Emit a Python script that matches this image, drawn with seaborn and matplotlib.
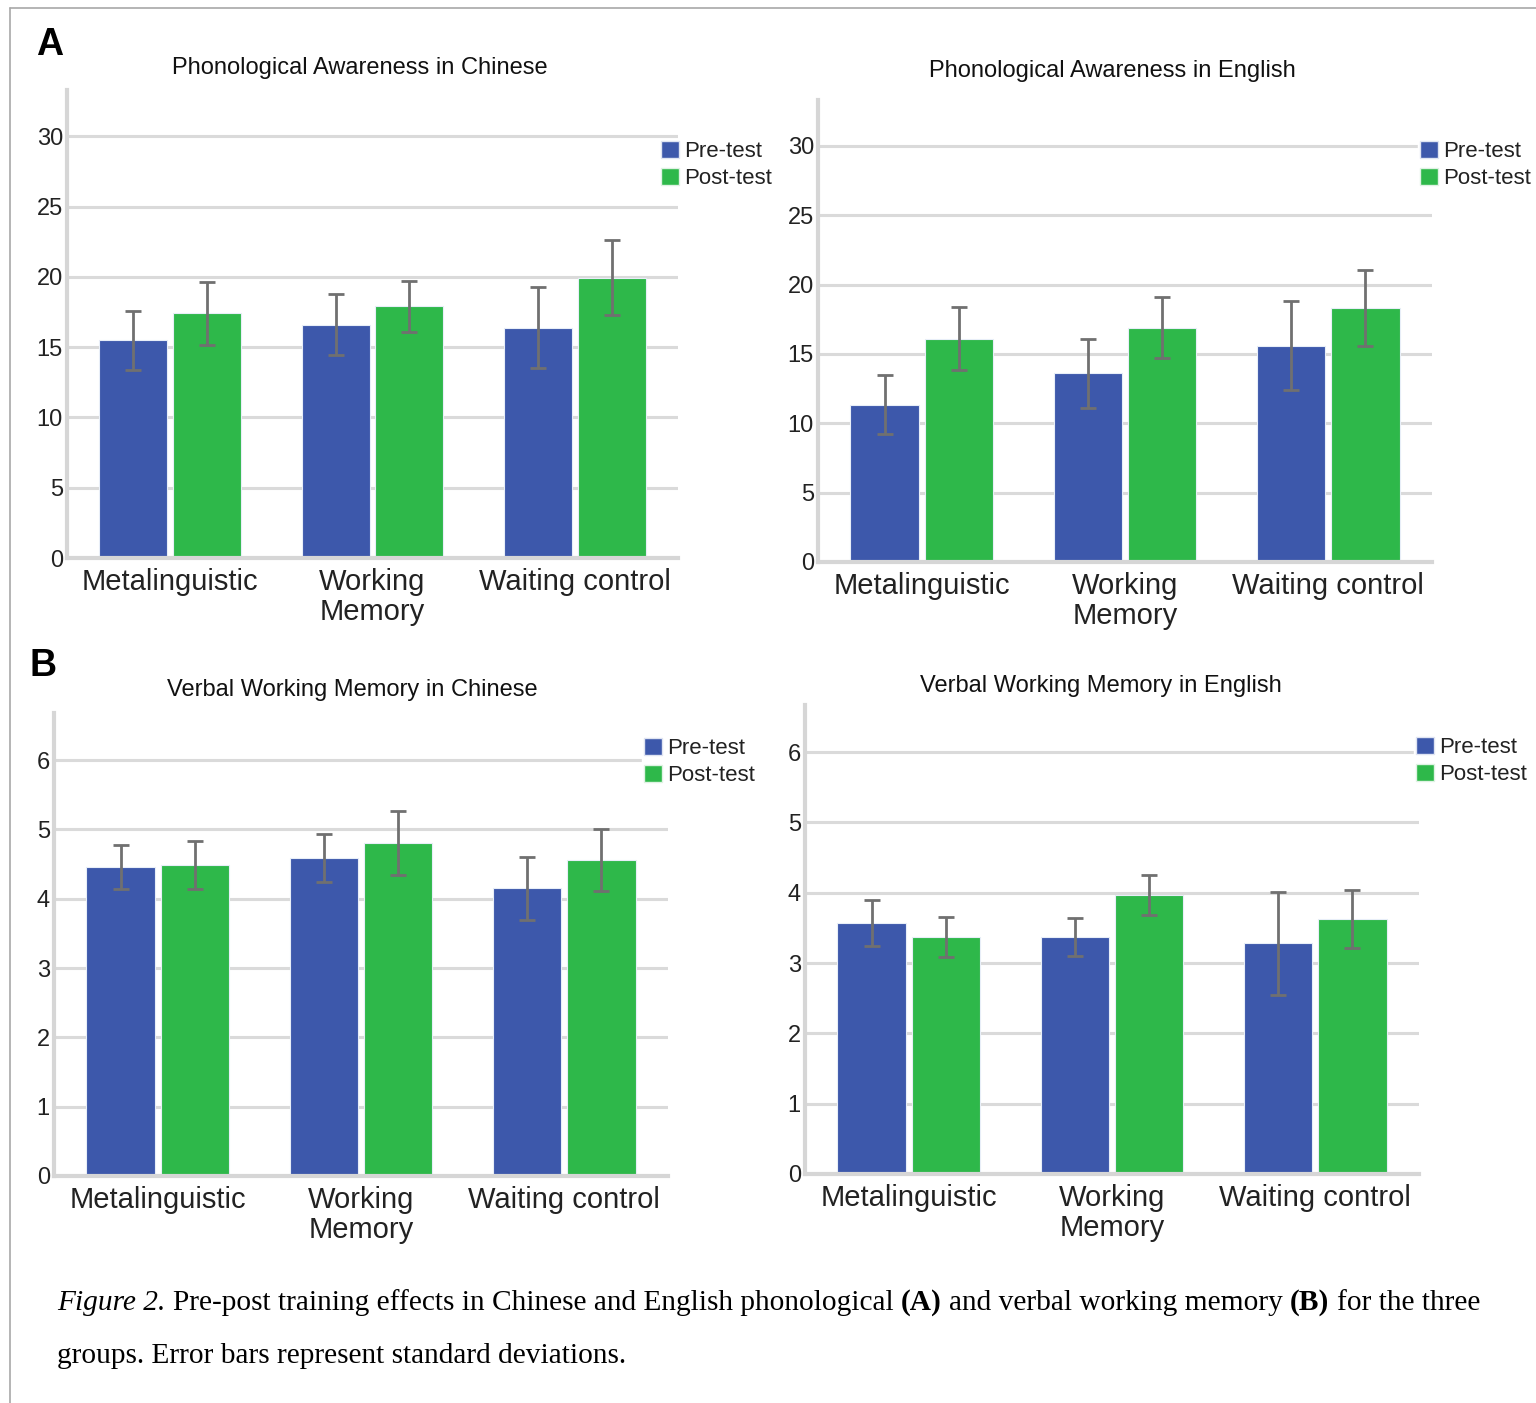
import matplotlib
matplotlib.use("Agg")
import matplotlib.pyplot as plt
from matplotlib import font_manager
from matplotlib.patches import Patch
from matplotlib.lines import Line2D
import seaborn as sns
import pandas as pd
import numpy as np

# ---------------- data ----------------
groups = ["Metalinguistic", "Working\nMemory", "Waiting control"]
tests = ["Pre-test", "Post-test"]

pa_cn_pre = [15.5, 16.6, 16.4]
pa_cn_pre_sd = [2.1, 2.15, 2.9]
pa_cn_post = [17.4, 17.9, 19.95]
pa_cn_post_sd = [2.25, 1.8, 2.65]

pa_en_pre = [11.35, 13.6, 15.6]
pa_en_pre_sd = [2.1, 2.5, 3.2]
pa_en_post = [16.1, 16.9, 18.3]
pa_en_post_sd = [2.25, 2.2, 2.75]

vwm_cn_pre = [4.46, 4.59, 4.15]
vwm_cn_pre_sd = [0.32, 0.35, 0.45]
vwm_cn_post = [4.49, 4.80, 4.56]
vwm_cn_post_sd = [0.35, 0.46, 0.45]

vwm_en_pre = [3.57, 3.37, 3.28]
vwm_en_pre_sd = [0.33, 0.27, 0.73]
vwm_en_post = [3.37, 3.97, 3.63]
vwm_en_post_sd = [0.29, 0.28, 0.41]

titles = ["Phonological Awareness in Chinese", "Phonological Awareness in English",
          "Verbal Working Memory in Chinese", "Verbal Working Memory in English"]
pa_ticks = [0, 5, 10, 15, 20, 25, 30]
vwm_ticks = [0, 1, 2, 3, 4, 5, 6]

# ---------------- style ----------------
sns.set_theme(style="white")
avail = {f.name for f in font_manager.fontManager.ttflist}
narrow = "Liberation Sans Narrow" if "Liberation Sans Narrow" in avail else "Liberation Sans"
plt.rcParams["font.family"] = ["Liberation Sans", "DejaVu Sans"]

BLUE = "#3d58ab"
GREEN = "#2eb84a"
palette = {"Pre-test": BLUE, "Post-test": GREEN}

W, H = 1536, 1403
fig = plt.figure(figsize=(W / 100, H / 100), dpi=100)


def fx(px):
    return px / W


def fy(py):
    return 1 - py / H


panels = [
    dict(box=(67, 678, 90, 558), pre=pa_cn_pre, pre_sd=pa_cn_pre_sd, post=pa_cn_post, post_sd=pa_cn_post_sd,
         ylim=33.3, ticks=pa_ticks, title=titles[0], tpos=(360, 68), leg=(659, 139)),
    dict(box=(818, 1432, 100, 562), pre=pa_en_pre, pre_sd=pa_en_pre_sd, post=pa_en_post, post_sd=pa_en_post_sd,
         ylim=33.3, ticks=pa_ticks, title=titles[1], tpos=(1112, 71), leg=(1418, 139)),
    dict(box=(54, 668, 713, 1176), pre=vwm_cn_pre, pre_sd=vwm_cn_pre_sd, post=vwm_cn_post, post_sd=vwm_cn_post_sd,
         ylim=6.68, ticks=vwm_ticks, title=titles[2], tpos=(352, 690), leg=(642, 736)),
    dict(box=(805, 1419, 705, 1174), pre=vwm_en_pre, pre_sd=vwm_en_pre_sd, post=vwm_en_post, post_sd=vwm_en_post_sd,
         ylim=6.67, ticks=vwm_ticks, title=titles[3], tpos=(1101, 686), leg=(1414, 735)),
]

for p in panels:
    l, r, t, b = p["box"]
    ax = fig.add_axes([fx(l), fy(b), (r - l) / W, (b - t) / H])
    df = pd.DataFrame({
        "group": groups * 2,
        "test": [tests[0]] * 3 + [tests[1]] * 3,
        "score": p["pre"] + p["post"],
        "sd": p["pre_sd"] + p["post_sd"],
    })
    sns.barplot(data=df, x="group", y="score", hue="test", hue_order=tests, order=groups,
                palette=palette, errorbar=None, width=0.73, gap=0.08, legend=False,
                edgecolor="#e8eef8", linewidth=0.8, saturation=1, ax=ax, zorder=2)
    for cont, sds in zip(ax.containers, [p["pre_sd"], p["post_sd"]]):
        xs = [bar.get_x() + bar.get_width() / 2 for bar in cont]
        ys = [bar.get_height() for bar in cont]
        ax.errorbar(xs, ys, yerr=sds, fmt="none", ecolor="#707070", elinewidth=2,
                    capsize=5.5, capthick=2, zorder=3)
    ax.set_xlim(-0.51, 2.51)
    ax.set_ylim(0, p["ylim"])
    ax.set_yticks(p["ticks"])
    ax.set_xlabel("")
    ax.set_ylabel("")
    ax.yaxis.grid(True, color="#dadada", linewidth=2.2, zorder=0)
    ax.set_axisbelow(True)
    for s in ["top", "right"]:
        ax.spines[s].set_visible(False)
    for s in ["left", "bottom"]:
        ax.spines[s].set_color("#d6d6d6")
        ax.spines[s].set_linewidth(3)
    ax.tick_params(axis="both", length=0)
    ax.tick_params(axis="y", pad=3, labelsize=17, labelcolor="#222222")
    ax.tick_params(axis="x", pad=7, labelsize=21, labelcolor="#222222")
    for lab in ax.get_yticklabels():
        lab.set_family([narrow, "DejaVu Sans"])
    for lab in ax.get_xticklabels():
        lab.set_linespacing(1.1)
    fig.text(fx(p["tpos"][0]), fy(p["tpos"][1]), p["title"], ha="center", va="center",
             fontsize=17, color="#111111", family=[narrow, "DejaVu Sans"])
    handles = [Patch(facecolor=BLUE, edgecolor="#dfe4f2"), Patch(facecolor=GREEN, edgecolor="#dff2e3")]
    ax.legend(handles, tests, loc="upper left", bbox_to_anchor=(fx(p["leg"][0]), fy(p["leg"][1])),
              bbox_transform=fig.transFigure, frameon=True, facecolor="white", edgecolor="white",
              framealpha=1, fancybox=False, borderpad=0.1, borderaxespad=0, handlelength=0.8,
              handleheight=0.8, handletextpad=0.25, labelspacing=0.25, fontsize=16,
              labelcolor="#222222")

# panel letters
fig.text(fx(36), fy(45), "A", fontsize=27, fontweight="bold", ha="left", va="center", color="black")
fig.text(fx(30), fy(666), "B", fontsize=27, fontweight="bold", ha="left", va="center", color="black")

# frame lines
fig.add_artist(Line2D([fx(10), 1], [fy(8), fy(8)], color="#a8a8a8", lw=1.2))
fig.add_artist(Line2D([fx(10), fx(10)], [fy(8), 0], color="#a8a8a8", lw=1.2))

# caption
renderer = fig.canvas.get_renderer()
cap_fs = 21.2
serif = ["Liberation Serif", "DejaVu Serif"]


def width_of(txt, **kw):
    t = fig.text(0, 0, txt, fontsize=cap_fs, family=serif, **kw)
    w = t.get_window_extent(renderer).width
    t.remove()
    return w


space_w = width_of("x x") - width_of("xx")
line1 = [("Figure 2.", dict(style="italic")),
         ("Pre-post training effects in Chinese and English phonological", {}),
         ("(A)", dict(weight="bold")),
         ("and verbal working memory", {}),
         ("(B)", dict(weight="bold")),
         ("for the three", {})]
x = 57
for txt, kw in line1:
    t = fig.text(fx(x), fy(1303), txt, fontsize=cap_fs, family=serif, ha="left", va="center",
                 color="black", **kw)
    x += t.get_window_extent(renderer).width + space_w
fig.text(fx(57), fy(1356), "groups. Error bars represent standard deviations.", fontsize=cap_fs,
         family=serif, ha="left", va="center", color="black")

fig.savefig("out.png", dpi=100, facecolor="white")
